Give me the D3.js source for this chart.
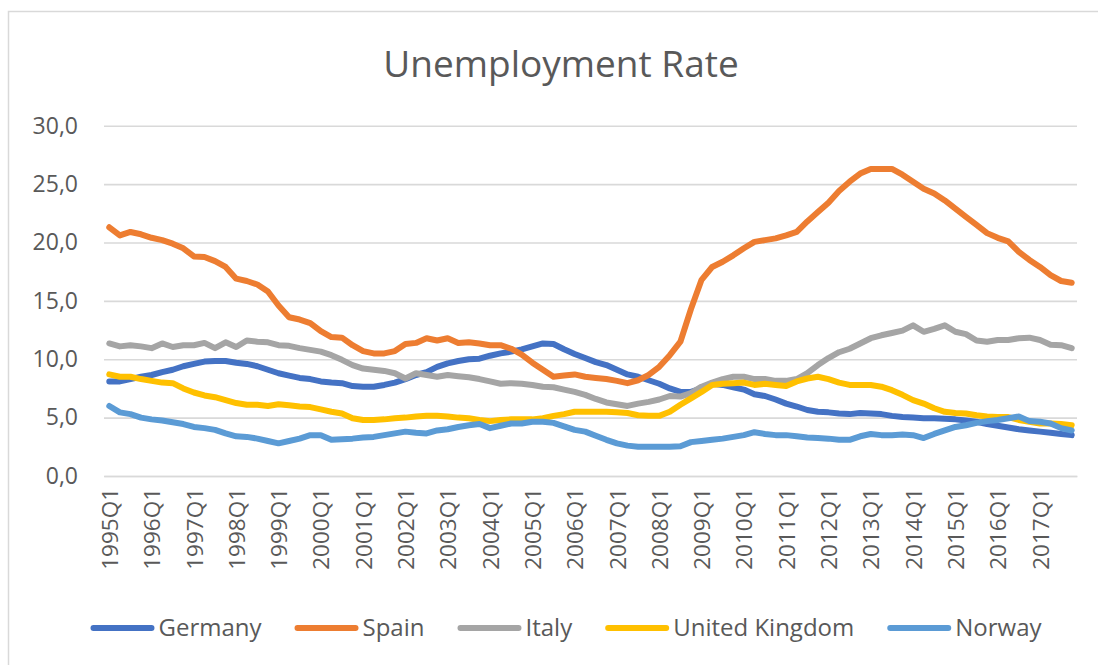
<!DOCTYPE html>
<html>
<head>
<meta charset="utf-8">
<script src="https://cdn.jsdelivr.net/npm/d3@7"></script>
<style>
  html, body { margin: 0; padding: 0; background: #ffffff; }
  svg { display: block; }
  text { font-family: "Open Sans", "Noto Sans", sans-serif; fill: #595959; }
</style>
</head>
<body>
<svg id="chart" width="1098" height="665"></svg>
<script>
// Quarterly unemployment rate (%), 1995Q1 - 2017Q4
const years = [1995, 1996, 1997, 1998, 1999, 2000, 2001, 2002, 2003, 2004, 2005, 2006,
               2007, 2008, 2009, 2010, 2011, 2012, 2013, 2014, 2015, 2016, 2017];
const quarters = ["Q1", "Q2", "Q3", "Q4"];
const categories = years.flatMap(y => quarters.map(q => y + q));
const xTickLabels = years.map(y => y + "Q1");
const yTicks = [0, 5, 10, 15, 20, 25, 30];

const germany = [
  8.1, 8.1, 8.3, 8.5, 8.65, 8.9, 9.1, 9.4, 9.6, 9.8, 9.85, 9.85, 9.7, 9.6, 9.4, 9.1, 8.8, 8.6, 8.4, 8.3, 8.1, 8.0, 7.95,
  7.7, 7.65, 7.65, 7.8, 8.0, 8.3, 8.65, 8.9, 9.35, 9.65, 9.85, 10.0, 10.05, 10.3, 10.5, 10.65, 10.85, 11.1, 11.35, 11.3, 10.85, 10.45,
  10.1, 9.75, 9.5, 9.1, 8.7, 8.5, 8.2, 7.9, 7.5, 7.2, 7.2, 7.5, 7.9, 7.8, 7.6, 7.4, 7.0, 6.85, 6.55, 6.2, 5.95, 5.65, 5.5,
  5.45, 5.35, 5.3, 5.4, 5.35, 5.3, 5.15, 5.05, 5.0, 4.95, 4.95, 4.9, 4.85, 4.75, 4.65, 4.45, 4.3, 4.15, 4.0, 3.9, 3.8, 3.7, 3.6, 3.5
];
const spain = [
  21.3, 20.6, 20.9, 20.7, 20.4, 20.2, 19.9, 19.5, 18.8, 18.75, 18.4, 17.9, 16.9, 16.7, 16.4, 15.8, 14.6, 13.6, 13.4, 13.1, 12.4, 11.9, 11.85,
  11.2, 10.7, 10.5, 10.5, 10.7, 11.3, 11.4, 11.8, 11.6, 11.8, 11.4, 11.45, 11.35, 11.2, 11.2, 10.9, 10.4, 9.7, 9.1, 8.5, 8.6, 8.7,
  8.5, 8.4, 8.3, 8.15, 7.95, 8.2, 8.65, 9.35, 10.35, 11.5, 14.3, 16.8, 17.9, 18.35, 18.9, 19.5, 20.05, 20.2, 20.35, 20.6, 20.9, 21.8, 22.6,
  23.4, 24.4, 25.2, 25.9, 26.3, 26.3, 26.3, 25.8, 25.2, 24.6, 24.2, 23.6, 22.9, 22.2, 21.5, 20.8, 20.4, 20.1, 19.2, 18.5, 17.9, 17.2, 16.7, 16.55
];
const italy = [
  11.35, 11.1, 11.2, 11.1, 10.95, 11.35, 11.05, 11.2, 11.2, 11.4, 10.95, 11.45, 11.05, 11.6, 11.5, 11.45, 11.2, 11.15, 10.95, 10.8, 10.65, 10.35, 9.95,
  9.5, 9.2, 9.1, 9.0, 8.8, 8.35, 8.8, 8.65, 8.5, 8.65, 8.55, 8.45, 8.3, 8.1, 7.9, 7.95, 7.9, 7.8, 7.65, 7.6, 7.4, 7.2,
  6.95, 6.6, 6.3, 6.15, 6.0, 6.2, 6.35, 6.55, 6.85, 6.8, 7.1, 7.65, 8.0, 8.3, 8.5, 8.5, 8.3, 8.3, 8.15, 8.15, 8.3, 8.8, 9.5,
  10.1, 10.6, 10.9, 11.35, 11.8, 12.05, 12.25, 12.45, 12.9, 12.35, 12.6, 12.9, 12.35, 12.15, 11.6, 11.5, 11.65, 11.65, 11.8, 11.85, 11.65, 11.25, 11.2, 10.95
];
const unitedKingdom = [
  8.7, 8.5, 8.5, 8.3, 8.15, 8.0, 7.95, 7.5, 7.15, 6.9, 6.75, 6.5, 6.25, 6.1, 6.1, 6.0, 6.15, 6.05, 5.95, 5.9, 5.7, 5.5, 5.35,
  4.95, 4.8, 4.8, 4.85, 4.95, 5.0, 5.1, 5.15, 5.15, 5.1, 5.0, 4.95, 4.8, 4.7, 4.8, 4.85, 4.85, 4.85, 4.95, 5.15, 5.3, 5.5,
  5.5, 5.5, 5.5, 5.45, 5.4, 5.2, 5.15, 5.15, 5.5, 6.1, 6.65, 7.2, 7.8, 7.9, 7.95, 8.0, 7.8, 7.9, 7.8, 7.7, 8.1, 8.35, 8.5,
  8.3, 8.0, 7.8, 7.8, 7.8, 7.65, 7.35, 6.95, 6.5, 6.2, 5.8, 5.5, 5.4, 5.35, 5.2, 5.1, 5.05, 5.05, 4.8, 4.65, 4.5, 4.5, 4.45, 4.35
];
const norway = [
  6.0, 5.45, 5.3, 5.0, 4.85, 4.75, 4.6, 4.45, 4.2, 4.1, 3.95, 3.65, 3.4, 3.35, 3.2, 3.0, 2.8, 3.0, 3.2, 3.5, 3.5, 3.1, 3.15,
  3.2, 3.3, 3.35, 3.5, 3.65, 3.8, 3.7, 3.65, 3.9, 4.0, 4.2, 4.35, 4.45, 4.1, 4.3, 4.5, 4.5, 4.65, 4.65, 4.55, 4.25, 3.95,
  3.8, 3.45, 3.1, 2.8, 2.6, 2.5, 2.5, 2.5, 2.5, 2.55, 2.9, 3.0, 3.1, 3.2, 3.35, 3.5, 3.75, 3.6, 3.5, 3.5, 3.4, 3.3, 3.25,
  3.2, 3.1, 3.1, 3.4, 3.6, 3.5, 3.5, 3.55, 3.5, 3.25, 3.6, 3.9, 4.2, 4.35, 4.55, 4.7, 4.8, 4.95, 5.1, 4.7, 4.65, 4.5, 4.1, 3.9
];

const seriesNames = ["Germany", "Spain", "Italy", "United Kingdom", "Norway"];
const seriesValues = [germany, spain, italy, unitedKingdom, norway];
const seriesColors = ["#4472C4", "#ED7D31", "#A5A5A5", "#FFC000", "#5B9BD5"];

// Layout
const W = 1098, H = 665;
const plot = { left: 104, right: 1077, top: 125.7, bottom: 476 };

const svg = d3.select("#chart");

// Chart frame
svg.append("rect")
  .attr("x", 8.5).attr("y", 11.5)
  .attr("width", W + 20).attr("height", H + 20)
  .attr("fill", "#ffffff")
  .attr("stroke", "#d9d9d9").attr("stroke-width", 1.5);

// Title
svg.append("text")
  .attr("x", 561).attr("y", 77)
  .attr("text-anchor", "middle")
  .style("font-size", "37px")
  .text("Unemployment Rate");

const x = d3.scalePoint().domain(categories).range([plot.left, plot.right]).padding(0.5);
const y = d3.scaleLinear().domain([0, 30]).range([plot.bottom, plot.top]);

const commaFmt = v => d3.format(".1f")(v).replace(".", ",");

// Value axis with horizontal gridlines
const yAxis = svg.append("g")
  .attr("transform", `translate(${plot.left},0)`)
  .call(d3.axisLeft(y).tickValues(yTicks).tickSize(-(plot.right - plot.left)).tickPadding(26).tickFormat(commaFmt));
yAxis.select(".domain").remove();
yAxis.selectAll(".tick line").attr("stroke", "#d9d9d9").attr("stroke-width", 1.6);
yAxis.selectAll(".tick text")
  .attr("fill", "#595959")
  .style("font-size", "23px")
  .style("font-family", "'Open Sans', 'Noto Sans', sans-serif");

// Category axis with rotated quarter labels
const xAxis = svg.append("g")
  .attr("transform", `translate(0,${plot.bottom})`)
  .call(d3.axisBottom(x).tickValues(xTickLabels).tickSize(0));
xAxis.select(".domain").attr("stroke", "#d9d9d9").attr("stroke-width", 1.6);
xAxis.selectAll(".tick text")
  .attr("fill", "#595959")
  .style("font-size", "22.5px")
  .style("font-family", "'Open Sans', 'Noto Sans', sans-serif")
  .attr("transform", "rotate(-90)")
  .attr("text-anchor", "end")
  .attr("x", -12).attr("y", 0).attr("dy", "0.36em");

// Series lines
const line = d3.line()
  .x((d, i) => x(categories[i]))
  .y(d => y(d));

svg.append("g")
  .selectAll("path")
  .data(seriesValues)
  .join("path")
  .attr("d", line)
  .attr("fill", "none")
  .attr("stroke", (d, i) => seriesColors[i])
  .attr("stroke-width", 6)
  .attr("stroke-linejoin", "round")
  .attr("stroke-linecap", "round");

// Legend
const legend = svg.append("g").attr("transform", "translate(0,628)");
const swatchLen = 64, swatchGap = 4, itemGap = 33;
const items = legend.selectAll("g")
  .data(seriesNames)
  .join("g");
items.append("line")
  .attr("x1", 3).attr("x2", swatchLen - 3)
  .attr("y1", 0).attr("y2", 0)
  .attr("stroke", (d, i) => seriesColors[i])
  .attr("stroke-width", 6)
  .attr("stroke-linecap", "round");
items.append("text")
  .attr("x", swatchLen + swatchGap)
  .attr("y", 0).attr("dy", "0.35em")
  .style("font-size", "24px")
  .text(d => d);

let cursor = 0;
const offsets = [];
items.each(function () {
  offsets.push(cursor);
  const tw = d3.select(this).select("text").node().getComputedTextLength();
  cursor += swatchLen + swatchGap + tw + itemGap;
});
const totalW = cursor - itemGap;
const startX = 566 - totalW / 2;
items.attr("transform", (d, i) => `translate(${startX + offsets[i]},0)`);
</script>
</body>
</html>
